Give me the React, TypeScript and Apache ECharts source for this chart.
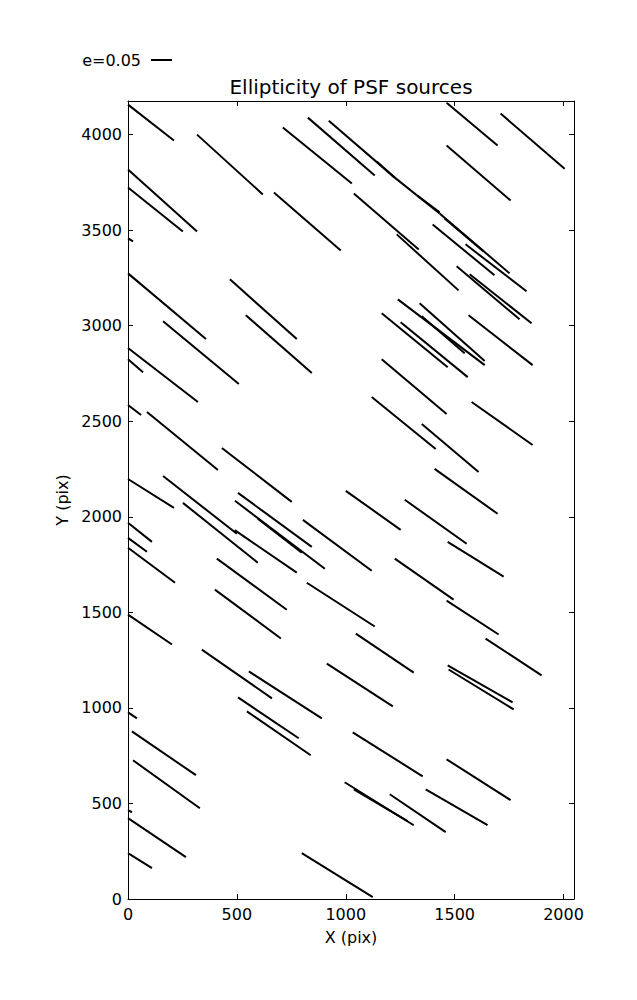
import React, { useEffect, useRef } from "react";
import * as echarts from "echarts";

// Axis ranges (pixels of the detector)
const xRange = [0, 2048];
const yRange = [0, 4176];
const tickStep = 500;

// Ellipticity whiskers: [xStart, yStart, xEnd, yEnd] in pix
const whiskers: [number, number, number, number][] = [
  [0, 4157, 211, 3969],
  [317, 4000, 619, 3687],
  [711, 4037, 1028, 3744],
  [826, 4089, 1133, 3786],
  [922, 4073, 1225, 3775],
  [1142, 3859, 1225, 3775],
  [1463, 4167, 1697, 3943],
  [1711, 4110, 2005, 3822],
  [1463, 3943, 1757, 3655],
  [0, 3817, 317, 3493],
  [0, 3723, 252, 3493],
  [0, 3457, 23, 3441],
  [670, 3697, 977, 3394],
  [1037, 3692, 1335, 3399],
  [1225, 3775, 1431, 3587],
  [1330, 3680, 1431, 3593],
  [1431, 3587, 1752, 3274],
  [1454, 3561, 1633, 3389],
  [1399, 3530, 1683, 3264],
  [1234, 3478, 1518, 3185],
  [1550, 3426, 1830, 3180],
  [1509, 3311, 1798, 3034],
  [1569, 3269, 1853, 3013],
  [0, 3274, 358, 2930],
  [468, 3243, 775, 2930],
  [161, 3023, 509, 2695],
  [541, 3055, 844, 2752],
  [0, 2883, 321, 2601],
  [0, 2825, 69, 2757],
  [0, 2585, 60, 2533],
  [87, 2548, 413, 2245],
  [431, 2360, 752, 2078],
  [1239, 3138, 1638, 2794],
  [1339, 3117, 1638, 2815],
  [1165, 3065, 1468, 2783],
  [1252, 3018, 1560, 2731],
  [1349, 3050, 1546, 2856],
  [1564, 3055, 1858, 2794],
  [1165, 2825, 1463, 2538],
  [1119, 2627, 1413, 2355],
  [1578, 2601, 1858, 2376],
  [1349, 2486, 1610, 2235],
  [1408, 2251, 1697, 2016],
  [0, 2198, 211, 2047],
  [161, 2214, 500, 1911],
  [252, 2073, 596, 1760],
  [505, 2125, 844, 1843],
  [491, 2084, 904, 1728],
  [490, 1930, 775, 1708],
  [596, 1990, 798, 1812],
  [803, 1984, 1119, 1718],
  [0, 1969, 110, 1869],
  [0, 1890, 87, 1817],
  [0, 1838, 216, 1655],
  [408, 1781, 729, 1514],
  [399, 1619, 702, 1363],
  [821, 1655, 1133, 1426],
  [0, 1488, 202, 1332],
  [339, 1305, 661, 1050],
  [555, 1191, 890, 945],
  [913, 1232, 1216, 1008],
  [505, 1055, 784, 841],
  [546, 982, 839, 752],
  [1000, 2136, 1252, 1932],
  [1271, 2089, 1555, 1859],
  [1468, 1869, 1725, 1687],
  [1225, 1781, 1495, 1567],
  [1463, 1561, 1702, 1384],
  [1046, 1389, 1312, 1185],
  [1642, 1363, 1899, 1170],
  [1468, 1222, 1766, 1029],
  [1472, 1201, 1771, 992],
  [18, 877, 312, 648],
  [23, 726, 330, 475],
  [0, 977, 41, 945],
  [0, 465, 18, 454],
  [0, 423, 266, 219],
  [0, 240, 110, 162],
  [798, 240, 1124, 10],
  [1032, 872, 1353, 642],
  [1463, 731, 1757, 517],
  [995, 611, 1312, 386],
  [1037, 574, 1284, 407],
  [1202, 548, 1459, 350],
  [1367, 574, 1651, 386],
];

const FONT = "DejaVu Sans";

export default function App() {
  const ref = useRef<HTMLDivElement>(null);

  useEffect(() => {
    if (!ref.current) return;
    const chart = echarts.init(ref.current, undefined, { renderer: "svg" });

    const axisCommon = {
      type: "value" as const,
      interval: tickStep,
      axisLine: { show: true, onZero: false, lineStyle: { color: "#000", width: 1 } },
      axisTick: { show: true, inside: true, length: 5, lineStyle: { color: "#000", width: 1 } },
      splitLine: { show: false },
    };
    const labelStyle = {
      color: "#000",
      fontSize: 16,
      fontFamily: FONT,
      showMaxLabel: false,
      formatter: (v: number) => String(v),
    };

    chart.setOption({
      animation: false,
      backgroundColor: "#fff",
      grid: { left: 128, right: 63, top: 101, bottom: 101, containLabel: false },
      graphic: [
        {
          type: "text",
          x: 351,
          y: 87,
          style: {
            text: "Ellipticity of PSF sources",
            fontSize: 20,
            fontFamily: FONT,
            fill: "#000",
            align: "center",
            verticalAlign: "middle",
          },
        },
        {
          type: "text",
          x: 141,
          y: 60,
          style: {
            text: "e=0.05",
            fontSize: 16,
            fontFamily: FONT,
            fill: "#000",
            align: "right",
            verticalAlign: "middle",
          },
        },
        {
          type: "line",
          shape: { x1: 151, y1: 60, x2: 172, y2: 60 },
          style: { stroke: "#000", lineWidth: 2 },
        },
      ],
      xAxis: [
        {
          ...axisCommon,
          position: "bottom",
          min: xRange[0],
          max: xRange[1],
          name: "X (pix)",
          nameLocation: "middle",
          nameGap: 30,
          nameTextStyle: { color: "#000", fontSize: 16, fontFamily: FONT },
          axisLabel: { ...labelStyle, margin: 7 },
        },
        {
          ...axisCommon,
          position: "top",
          min: xRange[0],
          max: xRange[1],
          axisLabel: { show: false },
        },
      ],
      yAxis: [
        {
          ...axisCommon,
          position: "left",
          min: yRange[0],
          max: yRange[1],
          name: "Y (pix)",
          nameLocation: "middle",
          nameGap: 57,
          nameTextStyle: { color: "#000", fontSize: 16, fontFamily: FONT },
          axisLabel: { ...labelStyle, margin: 6 },
        },
        {
          ...axisCommon,
          position: "right",
          min: yRange[0],
          max: yRange[1],
          axisLabel: { show: false },
        },
      ],
      series: [
        {
          type: "lines",
          coordinateSystem: "cartesian2d",
          xAxisIndex: 0,
          yAxisIndex: 0,
          polyline: false,
          silent: true,
          lineStyle: { color: "#000", width: 2, opacity: 1, curveness: 0 },
          data: whiskers.map(([x1, y1, x2, y2]) => ({
            coords: [
              [x1, y1],
              [x2, y2],
            ],
          })),
        },
      ],
    });

    return () => chart.dispose();
  }, []);

  return (
    <div
      ref={ref}
      style={{ position: "fixed", left: 0, top: 0, width: 637, height: 1000 }}
    />
  );
}
